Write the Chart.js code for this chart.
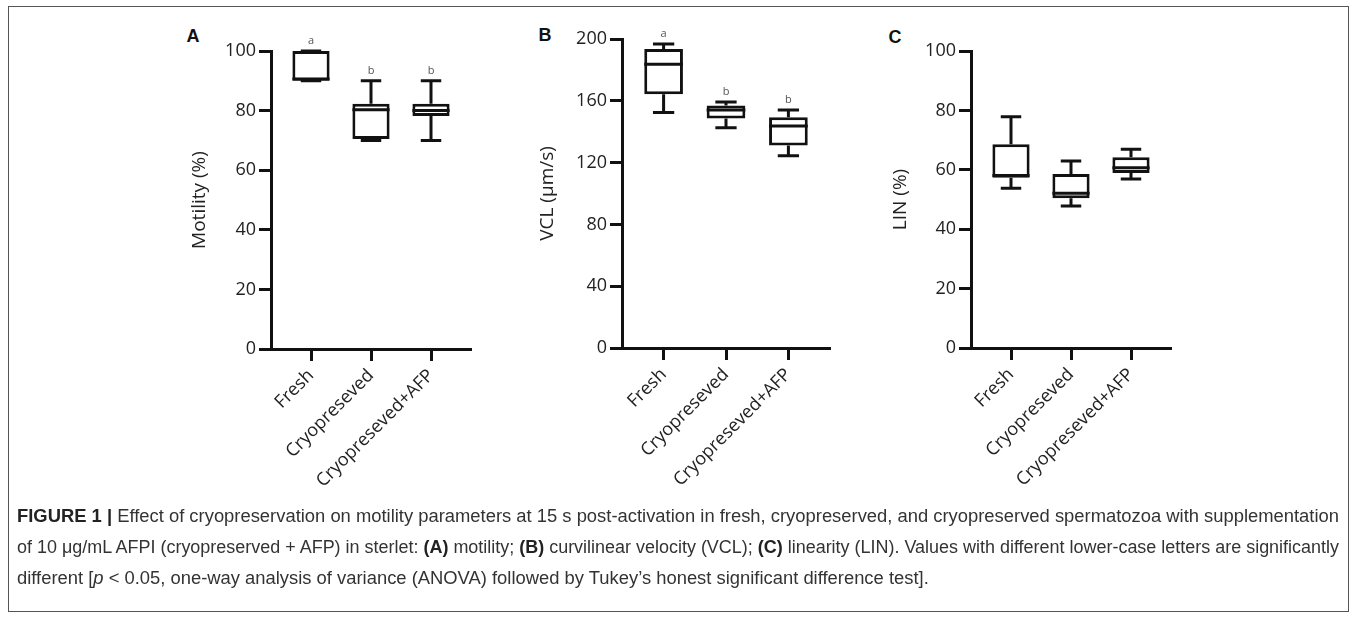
<!DOCTYPE html>
<html>
<head>
<meta charset="utf-8">
<script src="https://cdn.jsdelivr.net/npm/chart.js@4.4.1/dist/chart.umd.min.js"></script>
<style>
  html, body { margin: 0; padding: 0; background: #fff; width: 1358px; height: 629px; overflow: hidden; }
  .frame { position: absolute; left: 8px; top: 6px; width: 1341px; height: 606px; border: 1px solid #555; box-sizing: border-box; }
  .panel { position: absolute; top: 0; }
  .plabel { position: absolute; font-family: "Liberation Sans", Arial, sans-serif; font-weight: bold; font-size: 18px; color: #111; transform: translate(-50%, -50%); }
  #caption { position: absolute; left: 17px; top: 501px; font-family: "Liberation Sans Narrow", "Arial Narrow", "Liberation Sans", sans-serif; font-size: 17.5px; line-height: 31px; color: #333; white-space: nowrap; }
  #caption .ln { display: block; height: 31px; }
  #caption .ln span { display: inline-block; transform-origin: 0 50%; }
  #caption b { color: #222; }
</style>
</head>
<body>
<div class="frame"></div>
<div class="plabel" style="left:193px;top:36px">A</div>
<div class="plabel" style="left:545px;top:35px">B</div>
<div class="plabel" style="left:895px;top:37px">C</div>
<div class="panel" style="left:188px"><canvas id="cA" width="309" height="520"></canvas></div>
<div class="panel" style="left:536px"><canvas id="cB" width="320" height="520"></canvas></div>
<div class="panel" style="left:889px"><canvas id="cC" width="308" height="520"></canvas></div>
<div id="caption">
  <div class="ln"><span id="cap1"><b>FIGURE 1 |</b> Effect of cryopreservation on motility parameters at 15 s post-activation in fresh, cryopreserved, and cryopreserved spermatozoa with supplementation</span></div>
  <div class="ln"><span id="cap2">of 10 μg/mL AFPI (cryopreserved + AFP) in sterlet: <b>(A)</b> motility; <b>(B)</b> curvilinear velocity (VCL); <b>(C)</b> linearity (LIN). Values with different lower-case letters are significantly</span></div>
  <div class="ln"><span id="cap3">different [<i>p</i> &lt; 0.05, one-way analysis of variance (ANOVA) followed by Tukey’s honest significant difference test].</span></div>
</div>
<script>
// ---- data ----
const categories = ['Fresh', 'Cryopreseved', 'Cryopreseved+AFP'];

// Panel A: Motility (%)
const motMin = [90, 70, 70];
const motQ1  = [90, 70.5, 78.2];
const motMed = [90.6, 80.3, 80];
const motQ3  = [100, 82.3, 82.3];
const motMax = [100, 90, 90];
const motLetters = ['a', 'b', 'b'];
const motTicks = [0, 20, 40, 60, 80, 100];

// Panel B: VCL (µm/s)
const vclMin = [152.5, 142.6, 124.5];
const vclQ1  = [164.2, 148.6, 131];
const vclMed = [183.6, 154, 143.7];
const vclQ3  = [193.5, 157, 149.4];
const vclMax = [196.8, 159.2, 154];
const vclLetters = ['a', 'b', 'b'];
const vclTicks = [0, 40, 80, 120, 160, 200];

// Panel C: LIN (%)
const linMin = [53.8, 47.8, 56.9];
const linQ1  = [57.3, 50.4, 58.9];
const linMed = [58.1, 52.1, 60.7];
const linQ3  = [68.6, 58.6, 64.2];
const linMax = [77.9, 63, 66.9];
const linLetters = ['', '', ''];
const linTicks = [0, 20, 40, 60, 80, 100];

const INK = '#111';
const TXT = '#222';

function makePanel(id, p) {
  const whiskerPlugin = {
    id: 'whiskers_' + id,
    afterDatasetsDraw(chart) {
      const ctx = chart.ctx;
      const xs = chart.scales.x, ys = chart.scales.y;
      const meta = chart.getDatasetMeta(0);
      ctx.save();
      ctx.strokeStyle = INK;
      ctx.lineWidth = 3;
      ctx.lineCap = 'butt';
      categories.forEach((c, i) => {
        const cx = xs.getPixelForValue(i + 1);
        const bw = meta.data[i].width;
        const cap = bw * 0.55;
        const yMin = ys.getPixelForValue(p.min[i]);
        const yQ1 = ys.getPixelForValue(p.q1[i]);
        const yMed = ys.getPixelForValue(p.med[i]);
        const yQ3 = ys.getPixelForValue(p.q3[i]);
        const yMax = ys.getPixelForValue(p.max[i]);
        ctx.beginPath();
        ctx.moveTo(cx, yQ3); ctx.lineTo(cx, yMax);
        ctx.moveTo(cx - cap / 2, yMax); ctx.lineTo(cx + cap / 2, yMax);
        ctx.moveTo(cx, yQ1); ctx.lineTo(cx, yMin);
        ctx.moveTo(cx - cap / 2, yMin); ctx.lineTo(cx + cap / 2, yMin);
        ctx.moveTo(cx - bw / 2, yMed); ctx.lineTo(cx + bw / 2, yMed);
        ctx.stroke();
        if (p.letters[i]) {
          ctx.fillStyle = '#555';
          ctx.font = '11px "Open Sans", sans-serif';
          ctx.textAlign = 'center';
          ctx.textBaseline = 'middle';
          ctx.fillText(p.letters[i], cx, yMax - 10);
        }
      });
      ctx.restore();
    }
  };

  return new Chart(document.getElementById(id), {
    type: 'bar',
    data: {
      datasets: [{
        data: categories.map((c, i) => ({ x: i + 1, y: [p.q1[i], p.q3[i]] })),
        backgroundColor: '#fff',
        borderColor: INK,
        borderWidth: 3,
        borderSkipped: false,
        barPercentage: 0.62,
        categoryPercentage: 1
      }]
    },
    options: {
      responsive: false,
      animation: false,
      layout: { padding: { left: 0, top: p.padTop, right: 26, bottom: 0 } },
      plugins: { legend: { display: false }, tooltip: { enabled: false } },
      scales: {
        x: {
          type: 'linear',
          offset: false,
          min: 1 / 3,
          max: 11 / 3,
          afterBuildTicks: (s) => { s.ticks = categories.map((c, i) => ({ value: i + 1 })); },
          afterFit: (s) => { s.height = p.xHeight; },
          border: { display: true, color: INK, width: 3 },
          grid: { offset: false, drawOnChartArea: false, drawTicks: true, tickLength: 12, tickWidth: 3, tickColor: INK },
          ticks: {
            autoSkip: false,
            minRotation: 45,
            maxRotation: 45,
            padding: 4,
            color: TXT,
            font: { family: '"Open Sans", sans-serif', size: 18 },
            callback: (v) => categories[Math.round(v) - 1]
          }
        },
        y: {
          min: p.ticks[0],
          max: p.ticks[p.ticks.length - 1],
          afterBuildTicks: (s) => { s.ticks = p.ticks.map(v => ({ value: v })); },
          afterFit: (s) => { s.width = p.yWidth; },
          border: { display: true, color: INK, width: 3 },
          grid: { drawOnChartArea: false, drawTicks: true, tickLength: 12, tickWidth: 3, tickColor: INK },
          ticks: {
            padding: 3,
            color: TXT,
            font: { family: '"Open Sans", sans-serif', size: 18 }
          },
          title: {
            display: true,
            text: p.title,
            color: TXT,
            padding: { top: 0, bottom: 0 },
            font: { family: '"Open Sans", sans-serif', size: 19 }
          }
        }
      }
    },
    plugins: [whiskerPlugin]
  });
}

makePanel('cA', { min: motMin, q1: motQ1, med: motMed, q3: motQ3, max: motMax, letters: motLetters,
  ticks: motTicks, title: 'Motility (%)', padTop: 51, xHeight: 171, yWidth: 83 });
makePanel('cB', { min: vclMin, q1: vclQ1, med: vclMed, q3: vclQ3, max: vclMax, letters: vclLetters,
  ticks: vclTicks, title: 'VCL (μm/s)', padTop: 39, xHeight: 172, yWidth: 86 });
makePanel('cC', { min: linMin, q1: linQ1, med: linMed, q3: linQ3, max: linMax, letters: linLetters,
  ticks: linTicks, title: 'LIN (%)', padTop: 51, xHeight: 172, yWidth: 82 });

// condense caption lines to the reference line lengths
(function () {
  const s1 = document.getElementById('cap1');
  const s2 = document.getElementById('cap2');
  const s3 = document.getElementById('cap3');
  const w1 = s1.getBoundingClientRect().width;
  const w2 = s2.getBoundingClientRect().width;
  const k1 = 1322 / w1;
  const k2 = 1322 / w2;
  s1.style.transform = 'scaleX(' + k1 + ')';
  s2.style.transform = 'scaleX(' + k2 + ')';
  s3.style.transform = 'scaleX(' + k1 + ')';
})();
</script>
</body>
</html>
